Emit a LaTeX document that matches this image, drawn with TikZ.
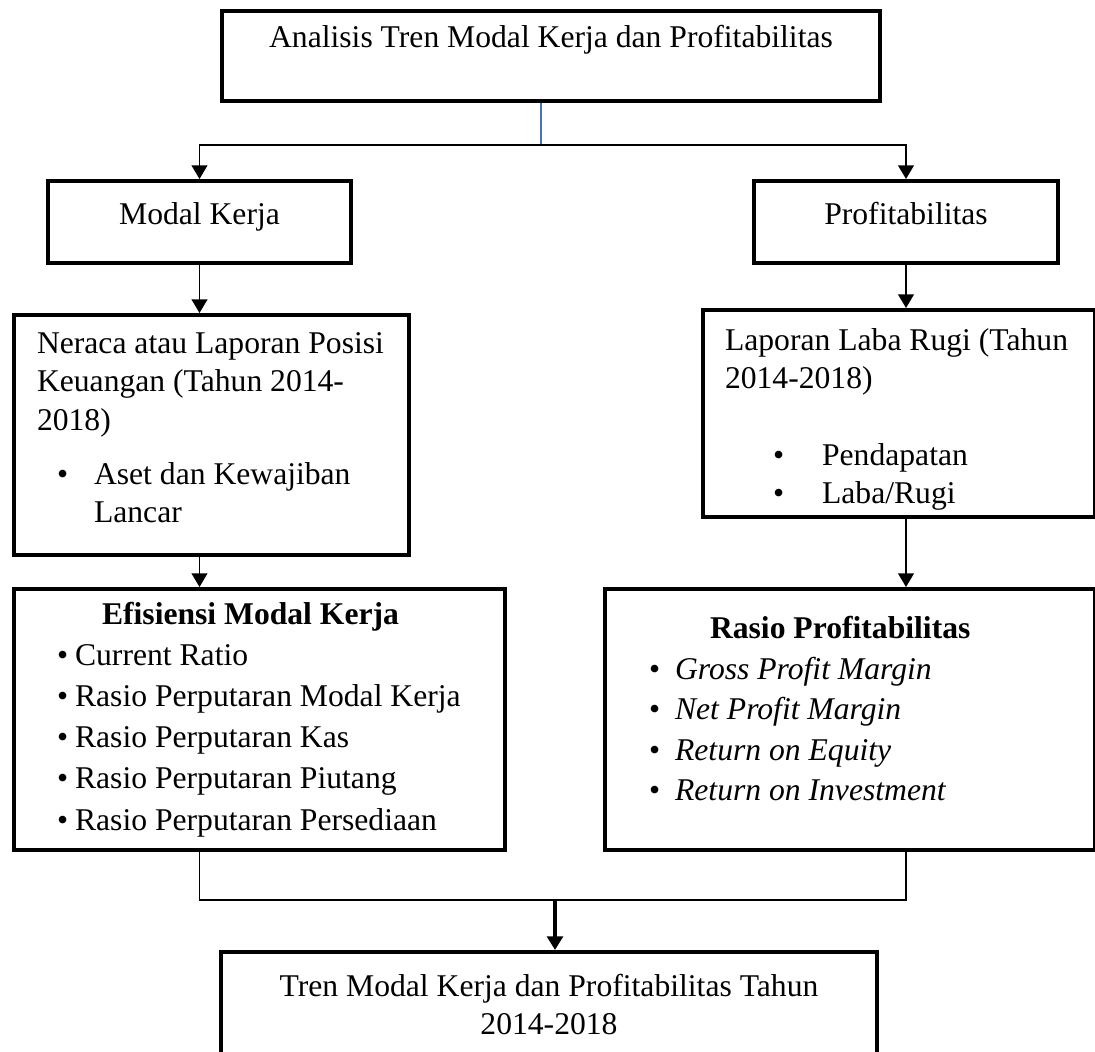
\documentclass[tikz,border=0pt]{standalone}
\usepackage{fontspec}
\setmainfont{Liberation Serif}
\usetikzlibrary{arrows.meta,positioning,calc}
\definecolor{garisbiru}{RGB}{68,114,196}

\tikzset{
  kotak/.style={draw,line width=2.3pt,inner sep=0pt,font=\fontsize{18}{21.8}\selectfont},
  daftar/.style={kotak,anchor=north west,align=left},
  panah/.style={line width=1.1pt,-{Triangle[length=7.8pt,width=9pt]}},
}

\begin{document}
\begin{tikzpicture}
\useasboundingbox (0,0) rectangle (21.9,21.04);
% baris atas
\node[kotak,anchor=north,minimum width=13.16cm,text height=0.73cm,text depth=1.07cm] (judul) at (11.02,20.86) {Analisis Tren Modal Kerja dan Profitabilitas};
\node[kotak,anchor=north,minimum width=6.06cm,text height=0.87cm,text depth=0.77cm] (modal) at (3.99,17.46) {Modal Kerja};
\node[kotak,anchor=north,minimum width=6.08cm,text height=0.87cm,text depth=0.77cm] (profit) at (18.12,17.46) {Profitabilitas};
% laporan keuangan
\node[daftar,inner xsep=0.46cm,minimum height=4.8cm] (neraca) at (0.24,14.78) {\makebox[6.98cm][l]{Neraca atau Laporan Posisi}\\
Keuangan (Tahun 2014-\\
2018)\\[9pt]
\hspace*{0.4cm}\textbullet\hspace{0.52cm}Aset dan Kewajiban\\
\hspace*{1.14cm}Lancar\rule[-0.3cm]{0pt}{0.3cm}};
\node[daftar,inner xsep=0.44cm,minimum height=4.14cm] (labarugi) at (14.02,14.88) {\makebox[6.96cm][l]{Laporan Laba Rugi (Tahun\rule{0pt}{0.68cm}}\\
2014-2018)\\[21.8pt]
\hspace*{0.96cm}\textbullet\hspace{0.76cm}Pendapatan\\
\hspace*{0.96cm}\textbullet\hspace{0.76cm}Laba/Rugi};
% rasio
\node[daftar,inner xsep=0.86cm,minimum height=5.22cm,font=\fontsize{18}{23.4}\selectfont] (efisiensi) at (0.24,9.3) {\hspace*{0.9cm}\textbf{Efisiensi Modal Kerja}\\
\textbullet\hspace{0.14cm}Current Ratio\\
\makebox[8.1cm][l]{\textbullet\hspace{0.14cm}Rasio Perputaran Modal Kerja}\\
\textbullet\hspace{0.14cm}Rasio Perputaran Kas\\
\textbullet\hspace{0.14cm}Rasio Perputaran Piutang\\
\textbullet\hspace{0.14cm}Rasio Perputaran Persediaan};
\node[daftar,inner xsep=0.88cm,minimum height=5.22cm,font=\fontsize{18}{23}\selectfont] (rasio) at (12.06,9.3) {\makebox[8.04cm][l]{\hspace*{1.22cm}\textbf{Rasio Profitabilitas}}\\
\textbullet\hspace{0.3cm}\textit{Gross Profit Margin}\\
\textbullet\hspace{0.3cm}\textit{Net Profit Margin}\\
\textbullet\hspace{0.3cm}\textit{Return on Equity}\\
\textbullet\hspace{0.3cm}\textit{Return on Investment}\rule[-0.44cm]{0pt}{0.44cm}};
% hasil
\node[kotak,anchor=north,minimum width=13.12cm,inner ysep=0.44cm,align=center] (tren) at (10.98,2.04) {Tren Modal Kerja dan Profitabilitas Tahun\\2014-2018};

% penghubung
\coordinate (cabang) at (10.82,18.14);
\coordinate (gabung) at (11.1,3.04);
\draw[line width=0.6pt,garisbiru] (cabang |- judul.south) -- (cabang);
\draw[panah] (cabang) -| (modal.north);
\draw[panah] (cabang) -| (profit.north);
\draw[panah] (modal.south) -- (modal.south |- neraca.north);
\draw[panah] (profit.south) -- (profit.south |- labarugi.north);
\draw[panah] (modal.south |- neraca.south) -- (modal.south |- efisiensi.north);
\draw[panah] (profit.south |- labarugi.south) -- (profit.south |- rasio.north);
\draw[line width=0.8pt] (modal.south |- efisiensi.south) |- (gabung) -| (profit.south |- rasio.south);
\draw[panah,line width=2.3pt] (gabung) -- (gabung |- tren.north);
\end{tikzpicture}
\end{document}
